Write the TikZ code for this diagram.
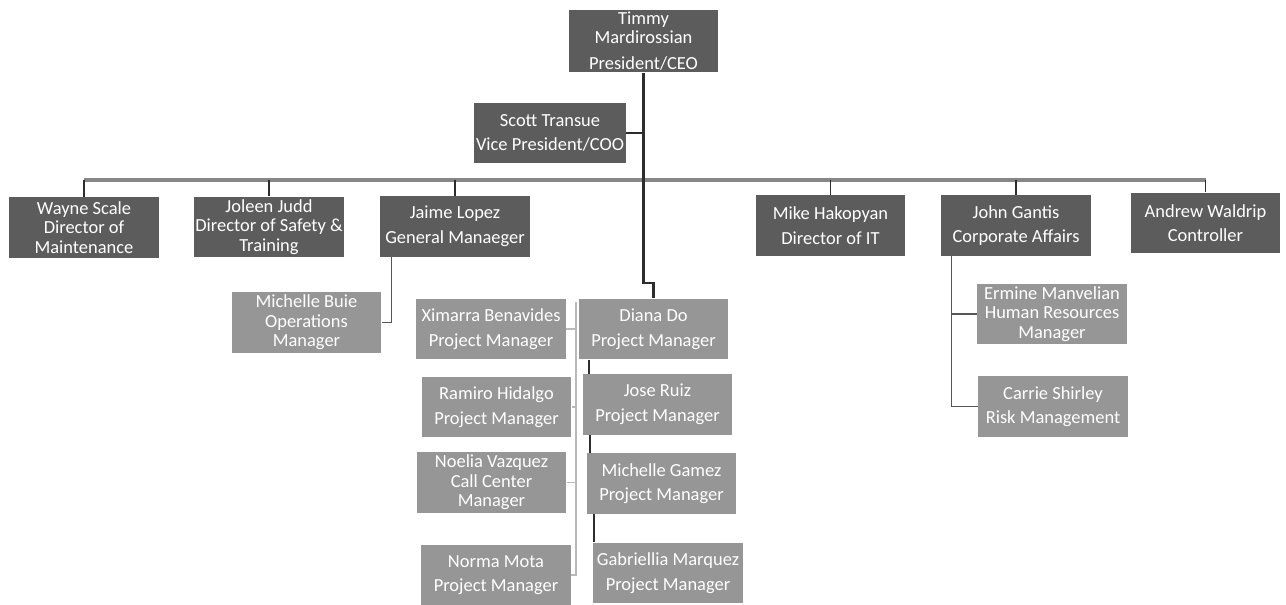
\documentclass[tikz,border=0pt]{standalone}
\usepackage{fontspec}
\setmainfont{Carlito}
\usepackage{xcolor}
\definecolor{orgdark}{RGB}{92,92,92}
\definecolor{orglight}{RGB}{150,150,150}
\definecolor{orgbar}{RGB}{135,135,135}
\definecolor{orgline}{RGB}{45,45,45}
\usetikzlibrary{calc}
\tikzset{
  dbox/.style={fill=orgdark, text=white, font=\fontsize{10.5}{14}\selectfont,
               minimum width=3cm, minimum height=1.22cm, align=center, inner sep=1pt},
  lbox/.style={dbox, fill=orglight},
  tight/.style={font=\fontsize{10.5}{11}\selectfont},
  bar/.style={draw=orgbar, line width=2.2pt},
  trunk/.style={draw=orgline, line width=1.6pt},
  drop/.style={draw=orgline, line width=1.1pt},
  link/.style={draw=orgline!80, line width=0.6pt},
  faint/.style={draw=gray!55, line width=0.6pt},
}

\begin{document}
\begin{tikzpicture}[x=0.02cm, y=-0.02cm]
\useasboundingbox (0,0) rectangle (1286,605);

% Top level
\node[dbox, tight] (ceo) at (643.5,41) {Timmy\\Mardirossian\\[4pt]President/CEO};
\node[dbox] (vp) at (550,133) {Scott Transue\\Vice President/COO};

% Directors
\node[dbox, tight] (wayne) at (84,227.5) {Wayne Scale\\Director of\\Maintenance};
\node[dbox, tight] (joleen) at (269,227) {Joleen Judd\\Director of Safety \&\\Training};
\node[dbox] (jaime) at (455,226.5) {Jaime Lopez\\General Manaeger};
\node[dbox] (mike) at (830.5,225.5) {Mike Hakopyan\\Director of IT};
\node[dbox] (john) at (1016,225.5) {John Gantis\\Corporate Affairs};
\node[dbox] (andrew) at (1205.5,223) {Andrew Waldrip\\Controller};

% Managers
\node[lbox, tight] (buie) at (306.5,322.5) {Michelle Buie\\Operations\\Manager};
\node[lbox] (ximarra) at (491,329) {Ximarra Benavides\\Project Manager};
\node[lbox] (diana) at (653.5,329) {Diana Do\\Project Manager};
\node[lbox] (ramiro) at (496.5,407) {Ramiro Hidalgo\\Project Manager};
\node[lbox] (jose) at (657.5,404.5) {Jose Ruiz\\Project Manager};
\node[lbox, tight] (noelia) at (491.5,482.5) {Noelia Vazquez\\Call Center\\Manager};
\node[lbox] (gamez) at (661.5,483.5) {Michelle Gamez\\Project Manager};
\node[lbox] (norma) at (496,575) {Norma Mota\\Project Manager};
\node[lbox] (gabriellia) at (668,573) {Gabriellia Marquez\\Project Manager};
\node[lbox, tight] (ermine) at (1052,314) {Ermine Manvelian\\Human Resources\\Manager};
\node[lbox] (carrie) at (1053,406.5) {Carrie Shirley\\Risk Management};

% Connectors
\coordinate (barl) at (84,180);
\coordinate (barr) at (1205.5,180);
\coordinate (jog) at (643.5,283);
\draw[bar] (barl) -- (barr);
\foreach \n in {wayne,joleen,jaime,mike,john,andrew}
  \draw[drop] (\n.north |- barl) -- (\n.north);
\draw[trunk] (ceo.south) -- (jog) -| (diana.north);
\draw[drop] (vp.east) -- (vp.east -| ceo.south);

\draw[link] ($(jaime.south west)+(12,0)$) |- (buie.east);
\draw[link] ($(john.south west)+(11,0)$) |- (ermine.west);
\draw[link] ($(john.south west)+(11,0)$) |- (carrie.west);

% Project managers
\coordinate (spine) at (576,302);
\draw[faint] (spine) |- (norma.east);
\foreach \n in {ximarra,ramiro,noelia}
  \draw[faint] (\n.east) -- (\n.east -| spine);
\coordinate (rj) at ($(jose.north west)+(7,0)$);
\coordinate (rg) at ($(gamez.north west)+(4,0)$);
\coordinate (rb) at ($(gabriellia.north west)+(1,0)$);
\draw[drop] (rj) -- (rj |- diana.south);
\draw[drop] (rg) -- (rg |- jose.south);
\draw[drop] (rb) -- (rb |- gamez.south);
\end{tikzpicture}
\end{document}
